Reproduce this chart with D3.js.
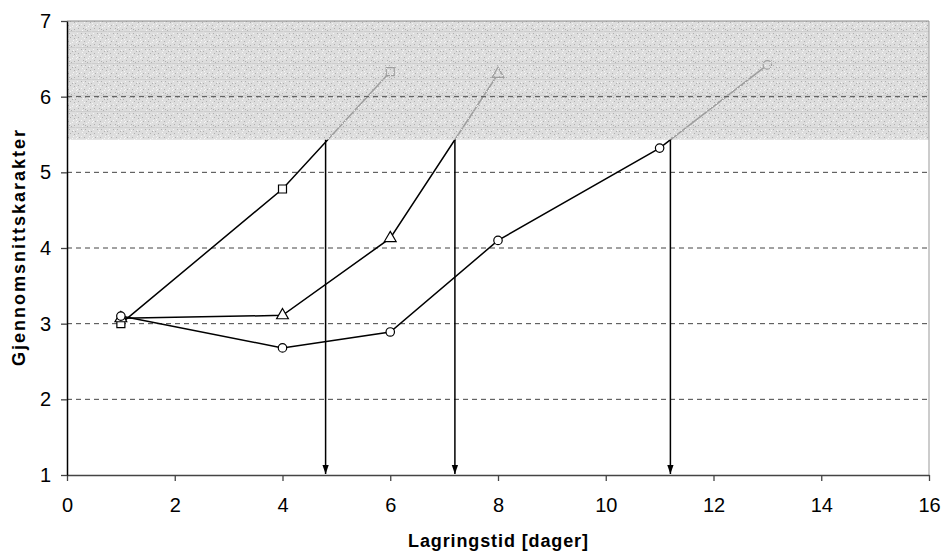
<!DOCTYPE html>
<html>
<head>
<meta charset="utf-8">
<script src="https://cdn.jsdelivr.net/npm/d3@7"></script>
<style>
  body { margin: 0; background: #fff; }
  svg { display: block; font-family: "Liberation Sans", Arial, sans-serif; }
</style>
</head>
<body>
<div id="chart"></div>
<script>
// storage days vs. average grade, three series
const squareDays = [1, 4, 6];
const squareGrade = [3.0, 4.78, 6.33];
const triangleDays = [1, 4, 6, 8];
const triangleGrade = [3.07, 3.11, 4.13, 6.3];
const circleDays = [1, 4, 6, 8, 11, 13];
const circleGrade = [3.1, 2.68, 2.89, 4.1, 5.32, 6.42];

// limit band and shelf-life arrows
const limitGrade = 5.43;
const arrowDays = [4.8, 7.2, 11.2];

const xTicks = [0, 2, 4, 6, 8, 10, 12, 14, 16];
const yTicks = [1, 2, 3, 4, 5, 6, 7];

const width = 942, height = 551;
const margin = {top: 21, right: 13, bottom: 76, left: 67};

const svg = d3.select("#chart").append("svg")
  .attr("width", width)
  .attr("height", height);

const x = d3.scaleLinear().domain([0, 16]).range([margin.left, width - margin.right]);
const y = d3.scaleLinear().domain([1, 7]).range([height - margin.bottom, margin.top]);

const defs = svg.append("defs");

// speckled grey texture like the original fill
const pat = defs.append("pattern")
  .attr("id", "speckle")
  .attr("patternUnits", "userSpaceOnUse")
  .attr("width", 16).attr("height", 16);
pat.append("rect").attr("width", 16).attr("height", 16).attr("fill", "rgba(210,210,210,0.75)");
const specks = [[1,1],[3,2],[5,1],[2,4],[6,5],[9,2],[11,3],[13,1],[10,6],[12,7],[14,5],
  [1,8],[4,9],[6,11],[3,12],[8,10],[10,13],[12,10],[14,12],[2,14],[7,14],[11,15],[15,9],
  [4,6],[8,3],[13,9],[5,13],[9,8]];
specks.forEach(([sx, sy], i) => {
  pat.append("rect").attr("x", sx).attr("y", sy).attr("width", 1).attr("height", 1)
    .attr("fill", i % 2 ? "rgba(248,248,248,0.9)" : "rgba(165,165,165,0.8)");
});
pat.append("rect").attr("x", 0).attr("y", 15).attr("width", 16).attr("height", 1).attr("fill", "rgba(195,195,195,0.6)");

defs.append("marker")
  .attr("id", "arrowhead")
  .attr("viewBox", "0 0 10 10")
  .attr("refX", 10).attr("refY", 5)
  .attr("markerWidth", 6).attr("markerHeight", 6)
  .attr("orient", "auto")
  .append("path")
  .attr("d", "M0,1.5 L10,5 L0,8.5 Z")
  .attr("fill", "#000");

// dashed grid lines
svg.append("g")
  .selectAll("line")
  .data(yTicks.filter(t => t > 1 && t < 7))
  .join("line")
  .attr("x1", x(0)).attr("x2", x(16))
  .attr("y1", d => y(d)).attr("y2", d => y(d))
  .attr("stroke", "#444")
  .attr("stroke-width", 1)
  .attr("stroke-dasharray", "5,4");

// series lines and markers
const series = [
  {days: squareDays, grade: squareGrade, shape: "square"},
  {days: triangleDays, grade: triangleGrade, shape: "triangle"},
  {days: circleDays, grade: circleGrade, shape: "circle"}
];

const line = d3.line().x(d => x(d[0])).y(d => y(d[1]));

series.forEach(s => {
  const pts = s.days.map((d, i) => [d, s.grade[i]]);
  svg.append("path")
    .attr("d", line(pts))
    .attr("fill", "none")
    .attr("stroke", "#000")
    .attr("stroke-width", 1.5);
});

const symSize = {square: 64, triangle: 60, circle: 56};
series.forEach(s => {
  const sym = s.shape === "square" ? d3.symbolSquare : s.shape === "triangle" ? d3.symbolTriangle : d3.symbolCircle;
  svg.append("g")
    .selectAll("path")
    .data(s.days.map((d, i) => [d, s.grade[i]]))
    .join("path")
    .attr("transform", d => `translate(${x(d[0])},${y(d[1])})`)
    .attr("d", d3.symbol().type(sym).size(symSize[s.shape]))
    .attr("fill", "#fff")
    .attr("stroke", "#000")
    .attr("stroke-width", 1.2);
});

// shaded acceptance band drawn over the lines
svg.append("rect")
  .attr("x", x(0))
  .attr("y", y(7))
  .attr("width", x(16) - x(0))
  .attr("height", y(limitGrade) - y(7))
  .attr("fill", "url(#speckle)");

// grid line visible on the band
svg.append("line")
  .attr("x1", x(0)).attr("x2", x(16))
  .attr("y1", y(6)).attr("y2", y(6))
  .attr("stroke", "#555")
  .attr("stroke-dasharray", "5,4");

// arrows from band limit down to the x axis
svg.append("g")
  .selectAll("line")
  .data(arrowDays)
  .join("line")
  .attr("x1", d => x(d)).attr("x2", d => x(d))
  .attr("y1", y(limitGrade))
  .attr("y2", y(1) - 1)
  .attr("stroke", "#000")
  .attr("stroke-width", 1.5)
  .attr("marker-end", "url(#arrowhead)");

// frame: right and top in grey
svg.append("line")
  .attr("x1", x(16)).attr("x2", x(16)).attr("y1", y(7)).attr("y2", y(1))
  .attr("stroke", "#999");
svg.append("line")
  .attr("x1", x(0)).attr("x2", x(16)).attr("y1", y(7)).attr("y2", y(7))
  .attr("stroke", "#888");

// axes
const xAxis = svg.append("g")
  .attr("transform", `translate(0,${y(1)})`)
  .call(d3.axisBottom(x).tickValues(xTicks).tickSize(6).tickSizeOuter(0).tickPadding(17));
xAxis.select(".domain").attr("stroke", "#444").attr("stroke-width", 1.5);
xAxis.selectAll(".tick line").attr("stroke", "#444").attr("stroke-width", 1.3);
xAxis.selectAll("text")
  .style("font-size", "20px")
  .style("font-family", "'Liberation Sans', Arial, sans-serif")
  .attr("fill", "#000");

const yAxis = svg.append("g")
  .attr("transform", `translate(${x(0)},0)`)
  .call(d3.axisLeft(y).tickValues(yTicks).tickFormat(d3.format("d")).tickSize(6).tickSizeOuter(0).tickPadding(10));
yAxis.select(".domain").attr("stroke", "#000").attr("stroke-width", 1.5);
yAxis.selectAll(".tick line").attr("stroke", "#444").attr("stroke-width", 1.3);
yAxis.selectAll("text")
  .style("font-size", "20px")
  .style("font-family", "'Liberation Sans', Arial, sans-serif")
  .attr("fill", "#000");

// axis titles
svg.append("text")
  .attr("x", (x(0) + x(16)) / 2)
  .attr("y", 547)
  .attr("text-anchor", "middle")
  .style("font-size", "18px")
  .style("font-weight", "bold")
  .attr("textLength", 180)
  .attr("lengthAdjust", "spacing")
  .text("Lagringstid [dager]");

const ly = (y(1) + y(7)) / 2;
svg.append("text")
  .attr("transform", `translate(25,${ly}) rotate(-90)`)
  .attr("text-anchor", "middle")
  .style("font-size", "18px")
  .style("font-weight", "bold")
  .attr("textLength", 236)
  .attr("lengthAdjust", "spacing")
  .text("Gjennomsnittskarakter");
</script>
</body>
</html>
